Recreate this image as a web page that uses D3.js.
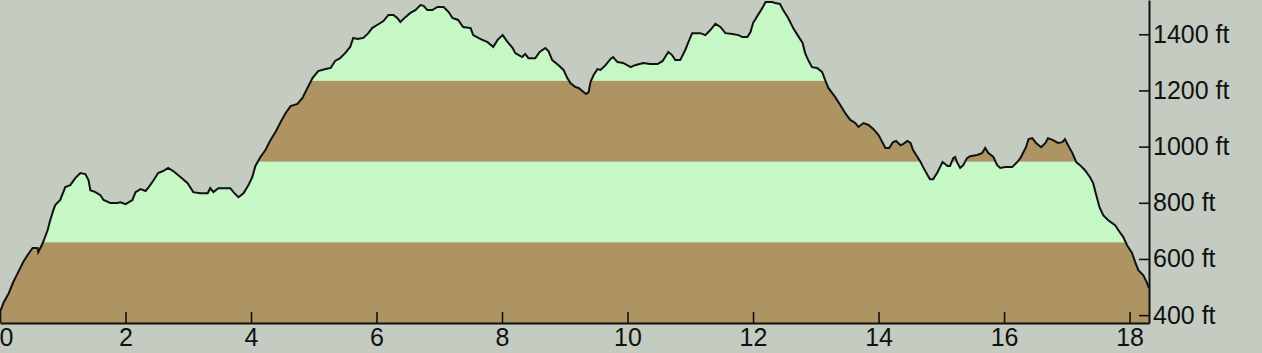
<!DOCTYPE html>
<html>
<head>
<meta charset="utf-8">
<script src="https://cdn.jsdelivr.net/npm/d3@7"></script>
<style>
html, body { margin: 0; padding: 0; background: #c4cbc1; overflow: hidden; }
svg { display: block; }
.axis text { font-family: "Liberation Sans", Arial, sans-serif; font-size: 25px; fill: #111; }
</style>
</head>
<body>
<svg id="mysvg" width="1262" height="353"></svg>
<script>
// distance along the route, miles
let miles = [0,0.06,0.14,0.21,0.29,0.37,0.44,0.52,0.60,0.61,0.68,0.76,0.80,0.85,0.88,0.96,1.04,1.12,1.20,1.28,
    1.36,1.41,1.44,1.52,1.60,1.65,1.76,1.87,1.92,2.00,2.11,2.16,2.24,2.32,2.37,2.45,2.52,2.60,2.68,2.76,
    2.88,2.99,3.08,3.19,3.31,3.35,3.40,3.48,3.67,3.72,3.80,3.88,3.96,4.02,4.07,4.15,4.23,4.31,4.39,4.47,
    4.55,4.63,4.74,4.82,4.90,4.98,5.07,5.19,5.27,5.34,5.42,5.50,5.58,5.63,5.70,5.79,5.87,5.93,6.01,6.11,
    6.19,6.27,6.33,6.38,6.46,6.54,6.62,6.70,6.75,6.81,6.89,6.97,7.07,7.15,7.21,7.30,7.38,7.50,7.54,7.66,
    7.77,7.86,7.93,8.01,8.09,8.17,8.21,8.32,8.37,8.42,8.53,8.60,8.69,8.74,8.80,8.90,8.98,9.04,9.09,9.17,
    9.22,9.28,9.34,9.38,9.41,9.46,9.52,9.57,9.65,9.73,9.77,9.84,9.93,10.05,10.12,10.25,10.36,10.48,10.56,10.60,
    10.65,10.71,10.76,10.84,10.92,10.97,11.03,11.16,11.24,11.32,11.40,11.48,11.56,11.67,11.77,11.83,11.91,11.96,12.00,12.08,
    12.15,12.20,12.31,12.35,12.43,12.48,12.56,12.64,12.71,12.79,12.83,12.88,12.94,13.02,13.10,13.15,13.20,13.31,13.39,13.47,
    13.55,13.63,13.68,13.76,13.84,13.92,14.00,14.06,14.11,14.17,14.23,14.28,14.35,14.39,14.46,14.51,14.55,14.62,14.67,14.71,
    14.78,14.82,14.87,14.94,14.98,15.02,15.10,15.14,15.19,15.22,15.25,15.30,15.35,15.41,15.46,15.57,15.65,15.70,15.75,15.83,
    15.89,15.94,16.02,16.13,16.21,16.26,16.31,16.35,16.39,16.45,16.51,16.59,16.66,16.70,16.78,16.86,16.93,16.97,17.02,17.09,
    17.15,17.21,17.29,17.37,17.42,17.47,17.52,17.58,17.66,17.77,17.82,17.90,17.96,18.04,18.09,18.14,18.22,18.28,18.31];

// elevation, feet
let elevation = [411,446,478,517,553,589,614,639,639,624,656,703,738,774,792,810,856,863,888,906,
    902,881,845,838,827,810,799,799,802,795,810,838,849,842,856,881,906,913,924,913,
    891,870,838,834,834,852,838,852,852,838,820,834,863,891,931,963,988,1023,1052,1087,
    1119,1144,1152,1173,1209,1244,1269,1276,1280,1305,1315,1333,1355,1387,1383,1387,1404,1422,1433,1447,
    1469,1469,1458,1444,1461,1476,1486,1504,1501,1486,1486,1497,1497,1479,1458,1451,1426,1422,1397,1383,
    1372,1355,1380,1397,1372,1351,1333,1319,1330,1315,1315,1337,1351,1340,1308,1290,1273,1244,1226,1212,
    1209,1198,1187,1194,1230,1255,1276,1273,1290,1312,1319,1301,1298,1283,1290,1298,1294,1294,1305,1319,
    1337,1326,1308,1308,1344,1372,1404,1404,1397,1415,1437,1426,1404,1401,1397,1390,1390,1408,1440,1469,
    1494,1515,1515,1511,1508,1486,1458,1422,1397,1369,1333,1308,1283,1280,1266,1237,1209,1176,1148,1119,
    1095,1084,1070,1084,1077,1062,1041,1016,995,995,1016,1020,1005,1009,1020,1013,988,963,945,927,
    899,884,884,909,927,945,931,931,959,963,945,924,934,959,966,970,977,995,977,963,
    934,924,927,927,945,959,981,998,1027,1030,1013,998,1013,1030,1023,1013,1016,1027,1005,977,
    945,934,916,891,870,827,785,756,738,720,703,678,649,621,589,560,542,514,496];

let xTicks = [0,2,4,6,8,10,12,14,16,18];
let yTicks = [400,600,800,1000,1200,1400];
let bandBreaks = [372,659.5,947,1234.5,1522];
let bandColors = ["#ae9363","#c5f8c5","#ae9363","#c5f8c5"];

let profile = miles.map(function(m, i){ return {mile:m, ft:elevation[i]}; });

let svg = d3.select('#mysvg');

let x = d3.scaleLinear().domain([0, 18.31]).range([0, 1149]);
let y = d3.scaleLinear().domain([372, 1522]).range([323, 0]);

let area = d3.area()
    .x(function(d){ return x(d.mile); })
    .y0(y(372))
    .y1(function(d){ return y(d.ft); });

let line = d3.line()
    .x(function(d){ return x(d.mile); })
    .y(function(d){ return y(d.ft); });

svg.append("clipPath")
    .attr("id", "under")
    .append("path")
    .attr("d", area(profile));

/* elevation bands, only visible under the profile */
let bands = bandColors.map(function(c, i){ return {lo:bandBreaks[i], hi:bandBreaks[i+1], color:c}; });
svg.append("g")
    .attr("clip-path", "url(#under)")
    .selectAll("rect")
    .data(bands)
    .enter()
    .append("rect")
    .attr("x", 0)
    .attr("width", x(18.31))
    .attr("y", function(d){ return y(d.hi); })
    .attr("height", function(d){ return y(d.lo) - y(d.hi); })
    .attr("fill", function(d){ return d.color; });

svg.append("path")
    .attr("d", line(profile))
    .attr("fill", "none")
    .attr("stroke", "#111")
    .attr("stroke-width", 2)
    .attr("stroke-linejoin", "miter");

let xAxis = d3.axisBottom(x)
    .tickValues(xTicks)
    .tickFormat(d3.format("d"))
    .tickSizeInner(-11)
    .tickSizeOuter(0)
    .tickPadding(5);

let gx = svg.append("g")
    .attr("class", "axis")
    .attr("transform", "translate(0," + y(372) + ")")
    .call(xAxis);

// first label sits at the left edge, keep it inside the picture
gx.selectAll(".tick text")
    .filter(function(d){ return d == 0; })
    .attr("text-anchor", "start")
    .attr("x", -1);

let yAxis = d3.axisRight(y)
    .tickValues(yTicks)
    .tickFormat(function(d){ return d + " ft"; })
    .tickSizeInner(-10)
    .tickSizeOuter(0)
    .tickPadding(4);

let gy = svg.append("g")
    .attr("class", "axis")
    .attr("transform", "translate(" + x(18.31) + ",0)")
    .call(yAxis);

svg.selectAll(".axis path.domain").attr("stroke", "#111").attr("stroke-width", 2);
svg.selectAll(".axis .tick line").attr("stroke", "#111").attr("stroke-width", 1.6);
gx.selectAll("text").attr("fill", "#111");
gy.selectAll("text").attr("fill", "#111");
</script>
</body>
</html>
